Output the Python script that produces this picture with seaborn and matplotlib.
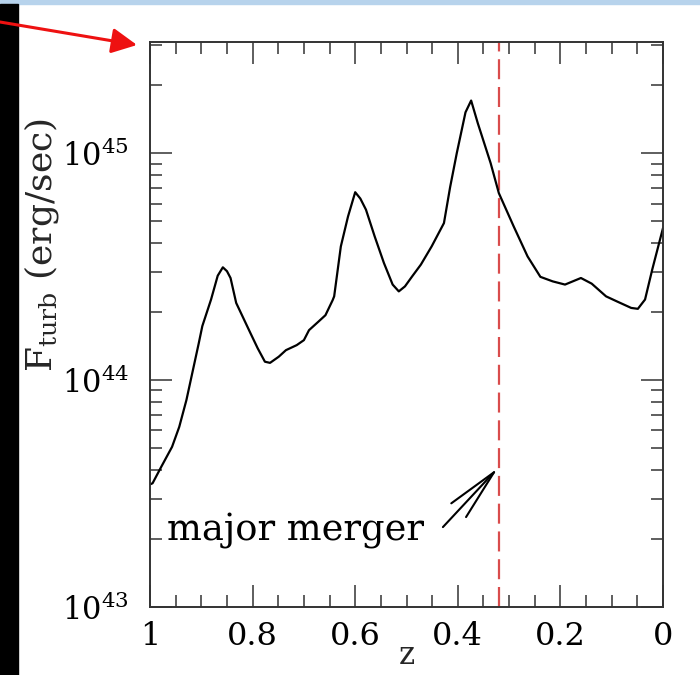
import numpy as np
import pandas as pd
import seaborn as sns
import matplotlib
matplotlib.use("Agg")
import matplotlib.pyplot as plt
from matplotlib.ticker import (LogLocator, MultipleLocator, NullFormatter,
                               FixedLocator, FixedFormatter)
from matplotlib.patches import Rectangle, FancyArrowPatch

# ---- data ----
z = [1.000, 0.995, 0.978, 0.957, 0.943, 0.929, 0.905, 0.898, 0.881, 0.868,
     0.858, 0.850, 0.843, 0.832, 0.804, 0.790, 0.776, 0.766, 0.749, 0.735,
     0.714, 0.700, 0.690, 0.672, 0.658, 0.644, 0.641, 0.628, 0.614, 0.600,
     0.590, 0.579, 0.562, 0.544, 0.527, 0.515, 0.503, 0.489, 0.472, 0.451,
     0.427, 0.415, 0.402, 0.385, 0.374, 0.361, 0.336, 0.320, 0.291, 0.264,
     0.239, 0.215, 0.191, 0.160, 0.139, 0.111, 0.090, 0.062, 0.049, 0.035,
     0.021, 0.000]
F_turb = [0.347e44, 0.351e44, 0.415e44, 0.508e44, 0.622e44, 0.817e44, 1.452e44,
          1.730e44, 2.265e44, 2.884e44, 3.141e44, 3.020e44, 2.818e44, 2.188e44,
          1.607e44, 1.380e44, 1.205e44, 1.191e44, 1.268e44, 1.355e44, 1.426e44,
          1.500e44, 1.660e44, 1.807e44, 1.932e44, 2.249e44, 2.339e44, 3.882e44,
          5.260e44, 6.730e44, 6.310e44, 5.636e44, 4.295e44, 3.281e44, 2.636e44,
          2.460e44, 2.588e44, 2.864e44, 3.228e44, 3.882e44, 4.920e44, 7.079e44,
          10.00e44, 15.14e44, 17.06e44, 13.55e44, 9.040e44, 6.668e44, 4.753e44,
          3.508e44, 2.851e44, 2.723e44, 2.636e44, 2.818e44, 2.661e44, 2.339e44,
          2.223e44, 2.080e44, 2.061e44, 2.265e44, 3.069e44, 4.677e44]

x_ticks = [1.0, 0.8, 0.6, 0.4, 0.2, 0.0]
x_tick_labels = ["1", "0.8", "0.6", "0.4", "0.2", "0"]
merger_z = 0.32
arrow_tip = (0.322, 4.09e43)
arrow_tail = (0.429, 2.25e43)
text_pos = (0.967, 1.97e43)
annotation_text = "major merger"

df = pd.DataFrame({"z": z, "F": F_turb})

sns.set_theme(style="ticks")
plt.rcParams["font.family"] = ["DejaVu Serif", "DejaVu Sans"]
plt.rcParams["mathtext.fontset"] = "dejavuserif"

fig = plt.figure(figsize=(7, 6.75), dpi=100)
ax = fig.add_axes([150 / 700, 68 / 675, 513 / 700, 565 / 675])

sns.lineplot(data=df, x="z", y="F", ax=ax, color="black", lw=1.6)
ax.set_yscale("log")
ax.set_xlim(1, 0)
ax.set_ylim(1e43, 10 ** 45.49)

ax.axvline(merger_z, color="#d94c4c", lw=1.6, ls=(0, (9, 3.5)), zorder=1)

ax.annotate("", xy=arrow_tip, xytext=arrow_tail,
            arrowprops=dict(arrowstyle="->,head_length=1.7,head_width=0.33",
                            lw=1.5, color="black", mutation_scale=22,
                            shrinkA=0, shrinkB=0))
ax.text(text_pos[0], text_pos[1], annotation_text, fontsize=26.5,
        ha="left", va="baseline", color="black")

ax.xaxis.set_major_locator(FixedLocator(x_ticks))
ax.xaxis.set_major_formatter(FixedFormatter(x_tick_labels))
ax.xaxis.set_minor_locator(MultipleLocator(0.05))
ax.yaxis.set_major_locator(LogLocator(base=10, numticks=10))
ax.yaxis.set_minor_locator(LogLocator(base=10, subs=np.arange(2, 10), numticks=30))
ax.yaxis.set_minor_formatter(NullFormatter())

ax.tick_params(which="both", direction="in", top=True, right=True,
               color="#333333", width=1.1)
ax.tick_params(which="major", length=16, labelsize=22, labelcolor="black")
ax.tick_params(which="minor", length=8.5)
ax.tick_params(axis="x", which="major", pad=10, labelsize=23)
ax.tick_params(axis="y", which="major", pad=15)

for s in ax.spines.values():
    s.set_linewidth(1.4)
    s.set_color("#333333")

ax.set_xlabel("z", fontsize=22)
ax.xaxis.set_label_coords(0.5, -0.058)
ax.set_ylabel(r"F$_{\rm turb}$ (erg/sec)", fontsize=26, va="center")
ax.yaxis.set_label_coords(-0.211, 0.641)

# slide decorations around the chart
fig.add_artist(Rectangle((0, 1 - 4 / 675), 1, 4 / 675, transform=fig.transFigure,
                         color="#b7d3ec", zorder=0))
fig.add_artist(Rectangle((0, 0), 18 / 700, 1 - 4 / 675, transform=fig.transFigure,
                         color="black", zorder=1))
fig.add_artist(FancyArrowPatch((0, 1 - 22 / 675), (137 / 700, 1 - 45 / 675),
                               transform=fig.transFigure,
                               arrowstyle="-|>,head_length=0.7,head_width=0.35",
                               mutation_scale=22, color="#ee1111", lw=2.2,
                               shrinkA=0, shrinkB=0, zorder=3))

fig.savefig("out.png", dpi=100)
